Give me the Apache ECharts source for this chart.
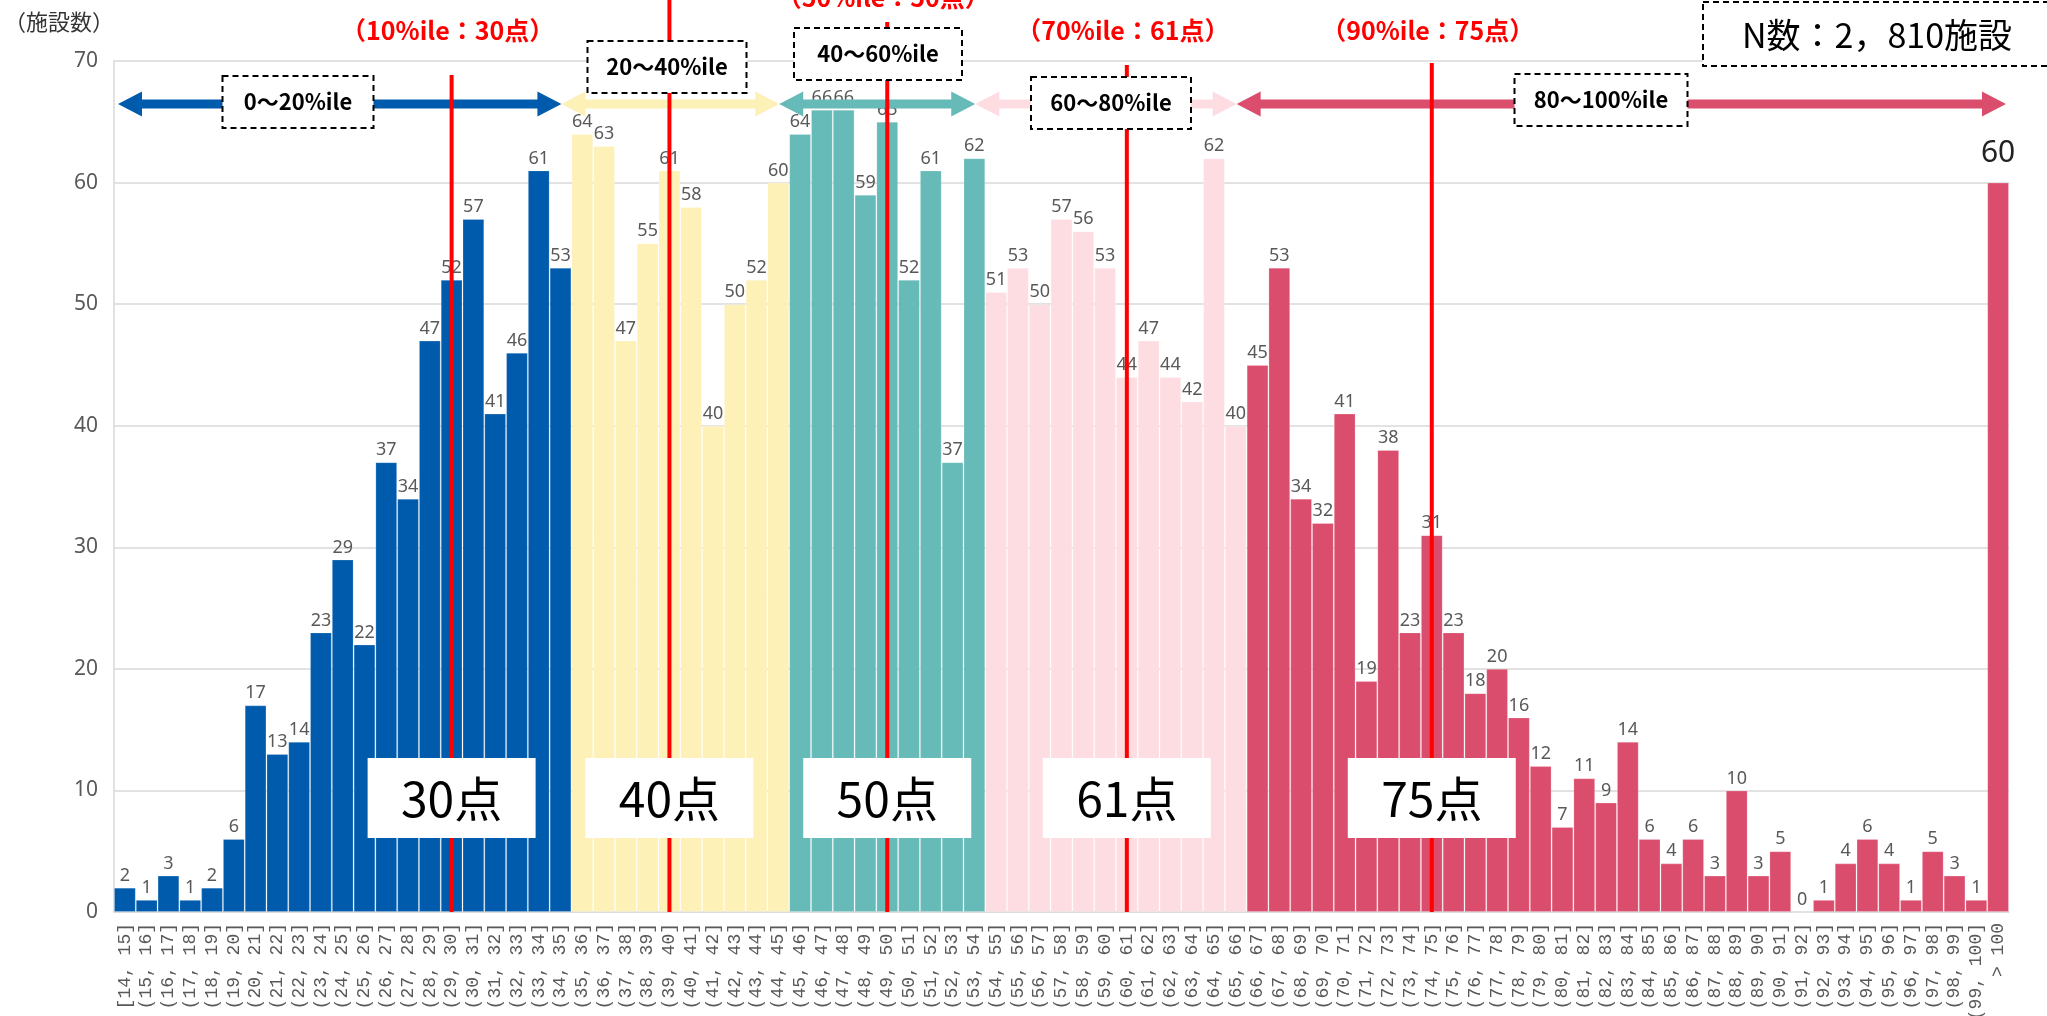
<!DOCTYPE html>
<html><head><meta charset="utf-8">
<script src="https://cdn.jsdelivr.net/npm/echarts@6/dist/echarts.min.js"></script>
<style>html,body{margin:0;padding:0;background:#fff;}#c{width:2047px;height:1016px;}</style>
</head><body><div id="c"></div>
<script>
// ---- data ----
const categories = ['[14, 15]','(15, 16]','(16, 17]','(17, 18]','(18, 19]','(19, 20]','(20, 21]','(21, 22]','(22, 23]','(23, 24]',
  '(24, 25]','(25, 26]','(26, 27]','(27, 28]','(28, 29]','(29, 30]','(30, 31]','(31, 32]','(32, 33]','(33, 34]',
  '(34, 35]','(35, 36]','(36, 37]','(37, 38]','(38, 39]','(39, 40]','(40, 41]','(41, 42]','(42, 43]','(43, 44]',
  '(44, 45]','(45, 46]','(46, 47]','(47, 48]','(48, 49]','(49, 50]','(50, 51]','(51, 52]','(52, 53]','(53, 54]',
  '(54, 55]','(55, 56]','(56, 57]','(57, 58]','(58, 59]','(59, 60]','(60, 61]','(61, 62]','(62, 63]','(63, 64]',
  '(64, 65]','(65, 66]','(66, 67]','(67, 68]','(68, 69]','(69, 70]','(70, 71]','(71, 72]','(72, 73]','(73, 74]',
  '(74, 75]','(75, 76]','(76, 77]','(77, 78]','(78, 79]','(79, 80]','(80, 81]','(81, 82]','(82, 83]','(83, 84]',
  '(84, 85]','(85, 86]','(86, 87]','(87, 88]','(88, 89]','(89, 90]','(90, 91]','(91, 92]','(92, 93]','(93, 94]',
  '(94, 95]','(95, 96]','(96, 97]','(97, 98]','(98, 99]','(99, 100]','> 100'];
const counts = [2,1,3,1,2,6,17,13,14,23,29,22,37,34,47,52,57,41,46,61,53,
  64,63,47,55,61,58,40,50,52,60,
  64,66,66,59,65,52,61,37,62,
  51,53,50,57,56,53,44,47,44,42,62,40,
  45,53,34,32,41,19,38,23,31,23,18,20,16,12,7,11,9,14,6,4,6,3,10,3,5,0,1,4,6,4,1,5,3,1,60];
const bandNames = ['0～20%ile','20～40%ile','40～60%ile','60～80%ile','80～100%ile'];
const bandSizes = [21,10,9,12,35];
const bandColors = ['#005BAC','#FDF1B8','#66BAB7','#FDDDE2','#DB4D6D'];
const pctCats = ['(29, 30]','(39, 40]','(49, 50]','(60, 61]','(74, 75]'];
const pctScores = ['30点','40点','50点','61点','75点'];
const pctTitles = ['（10%ile：30点）','','（50%ile：50点）','（70%ile：61点）','（90%ile：75点）'];
const yTicks = [0,10,20,30,40,50,60,70];
const yTitle = '（施設数）';
const nText = 'N数：2，810施設';

// ---- build ----
const itemColors = [];
bandSizes.forEach((n,b)=>{for(let i=0;i<n;i++) itemColors.push(bandColors[b]);});
const items = counts.map((v,i)=>{
  const it = {value:v, itemStyle:{color:itemColors[i]}};
  if (i === counts.length-1) it.label = {fontSize:30, color:'#222', distance:14};
  return it;
});

const chart = echarts.init(document.getElementById('c'));
chart.setOption({
  animation:false,
  grid:{left:114, right:38, top:61, bottom:104, outerBoundsMode:'none', containLabel:false},
  xAxis:{type:'category', data:categories,
    axisLine:{lineStyle:{color:'#D9D9D9', width:1.5}}, axisTick:{show:false},
    axisLabel:{interval:0, rotate:90, fontFamily:'Liberation Mono', fontSize:18, color:'#595959', margin:11}},
  yAxis:{type:'value', min:yTicks[0], max:yTicks[yTicks.length-1], interval:10,
    axisLine:{show:true, lineStyle:{color:'#D9D9D9', width:1.5}},
    splitLine:{lineStyle:{color:'#D9D9D9', width:1.5}},
    axisLabel:{fontFamily:'Noto Sans', fontSize:21, color:'#595959', margin:16}},
  series:[{type:'bar', data:items, barCategoryGap:'0%', barGap:'0%',
    itemStyle:{borderColor:'rgba(255,255,255,0.2)', borderWidth:1},
    label:{show:true, position:'top', distance:3, fontFamily:'Noto Sans', fontSize:18, color:'#595959'}}]
});

const cx = c => chart.convertToPixel({xAxisIndex:0}, c);
const cy = v => chart.convertToPixel({yAxisIndex:0}, v);
const bw = cx(categories[1]) - cx(categories[0]);
const y0 = cy(0);
const edge = i => cx(categories[0]) - bw/2 + i*bw;  // left boundary of index i

const g = [];
const JP = '"Noto Sans CJK JP"';
// y title
g.push({type:'text', x:4, y:22, z:30, style:{text:yTitle, font:'22px '+JP, fill:'#333', align:'left', verticalAlign:'middle'}});

// arrows
const ay = 104, L = 24, H = 12.5, t = 4.5;
let start = 0;
const bounds = [0];
bandSizes.forEach(n=>{start+=n; bounds.push(start);});
for (let b=0;b<bandSizes.length;b++){
  const x1 = b===0 ? edge(0)+4 : edge(bounds[b]) - 10;
  const x2 = b===bandSizes.length-1 ? edge(bounds[b+1]) - 3 : edge(bounds[b+1]) - 10;
  g.push({type:'polygon', z:12, shape:{points:[[x1,ay],[x1+L,ay-H],[x1+L,ay-t],[x2-L,ay-t],[x2-L,ay-H],[x2,ay],[x2-L,ay+H],[x2-L,ay+t],[x1+L,ay+t],[x1+L,ay+H]]},
    style:{fill:bandColors[b]}});
}

// red percentile lines
const lineTops = [75, 0, 22, 65, 63];
pctCats.forEach((c,i)=>{
  const x = cx(c);
  g.push({type:'line', z:14, shape:{x1:x, y1:lineTops[i], x2:x, y2:y0}, style:{stroke:'#FF0000', lineWidth:4}});
  // score box
  g.push({type:'rect', z:20, shape:{x:x-84, y:758, width:168, height:80}, style:{fill:'#fff'}});
  g.push({type:'text', z:21, x:x, y:799, style:{text:pctScores[i], font:'48px '+JP, fill:'#000', align:'center', verticalAlign:'middle'}});
  if (pctTitles[i]) {
    g.push({type:'text', z:21, x:x-4, y:(i===2? -3 : 30), style:{text:pctTitles[i], font:'bold 25px '+JP, fill:'#FF0000', align:'center', verticalAlign:'middle'}});
  }
});

// band label boxes (dashed)
const bandBoxes = [[298,102,151,52],[667,67,159,52],[878,54,168,52],[1111,103,160,52],[1601,100,173,52]];
bandBoxes.forEach((bx,i)=>{
  g.push({type:'rect', z:20, shape:{x:bx[0]-bx[2]/2, y:bx[1]-bx[3]/2, width:bx[2], height:bx[3]},
    style:{fill:'#fff', stroke:'#000', lineWidth:2, lineDash:[6,4]}});
  g.push({type:'text', z:21, x:bx[0], y:bx[1], style:{text:bandNames[i], font:'bold 22px '+JP, fill:'#000', align:'center', verticalAlign:'middle'}});
});

// N box
g.push({type:'rect', z:20, shape:{x:1703, y:2, width:380, height:64}, style:{fill:'#fff', stroke:'#000', lineWidth:2, lineDash:[6,4]}});
g.push({type:'text', z:21, x:1877, y:35, style:{text:nText, font:'34px '+JP, fill:'#000', align:'center', verticalAlign:'middle'}});

chart.setOption({graphic:g});
</script></body></html>
